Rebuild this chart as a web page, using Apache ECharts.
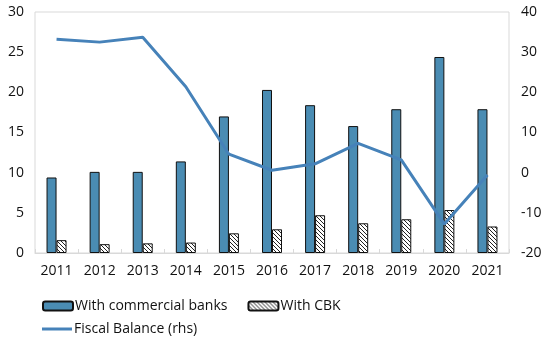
<!DOCTYPE html>
<html><head><meta charset="utf-8">
<script src="https://cdn.jsdelivr.net/npm/echarts@6/dist/echarts.min.js"></script>
<style>html,body{margin:0;padding:0;background:#fff}#c{width:550px;height:341px}</style>
</head><body><div id="c"></div>
<script>
const years = ['2011','2012','2013','2014','2015','2016','2017','2018','2019','2020','2021'];
const commercialBanks = [9.4, 10.1, 10.1, 11.4, 17.0, 20.3, 18.4, 15.8, 17.9, 24.4, 17.9];
const withCBK = [1.6, 1.1, 1.2, 1.3, 2.45, 2.95, 4.7, 3.7, 4.2, 5.35, 3.3];
const fiscalBalance = [33.2, 32.5, 33.7, 21.4, 4.6, 0.6, 2.2, 7.3, 3.2, -12.8, -0.6];

function hatch() {
  const c = document.createElement('canvas');
  c.width = 4; c.height = 4;
  const g = c.getContext('2d');
  g.fillStyle = '#fff'; g.fillRect(0,0,4,4);
  g.strokeStyle = '#222'; g.lineWidth = 1;
  g.beginPath();
  g.moveTo(-1,-1); g.lineTo(5,5);
  g.moveTo(-1,3); g.lineTo(1,5);
  g.moveTo(3,-1); g.lineTo(5,1);
  g.stroke();
  return c;
}
const font = '"Open Sans", sans-serif';
const chart = echarts.init(document.getElementById('c'), null, {renderer:'canvas'});
chart.setOption({
  animation: false,
  textStyle: {fontFamily: font},
  grid: {left: 35, right: 41, top: 12, bottom: 88, show: true, borderColor: '#d9d9d9', borderWidth: 1},
  legend: [
    {data: ['With commercial banks', 'With CBK'], left: 37, top: 294, itemWidth: 30, itemHeight: 9, itemGap: 20,
     textStyle: {fontSize: 14, color: '#111', fontFamily: font, padding: [0,0,0,-3]}},
    {data: [{name: 'Fiscal Balance (rhs)', icon: 'rect'}], left: 37, top: 317, itemWidth: 30, itemHeight: 3,
     textStyle: {fontSize: 14, color: '#111', fontFamily: font, padding: [0,0,0,-3]}}
  ],
  xAxis: {
    type: 'category', data: years,
    axisLine: {lineStyle: {color: '#d9d9d9'}},
    axisTick: {show: true, inside: true, length: 4, lineStyle: {color: '#d9d9d9'}},
    axisLabel: {color: '#111', fontSize: 14, margin: 11, fontFamily: font}
  },
  yAxis: [
    {type: 'value', min: 0, max: 30, interval: 5, splitLine: {show: false},
     axisLine: {show: false}, axisTick: {show: false},
     axisLabel: {color: '#111', fontSize: 14, margin: 11, fontFamily: font}},
    {type: 'value', min: -20, max: 40, interval: 10, splitLine: {show: false},
     axisLine: {show: false}, axisTick: {show: false},
     axisLabel: {color: '#111', fontSize: 14, margin: 12, fontFamily: font}}
  ],
  series: [
    {name: 'With commercial banks', type: 'bar', data: commercialBanks, barWidth: 10, barGap: '0%',
     itemStyle: {color: '#4a8cb3', borderColor: '#111', borderWidth: 1}},
    {name: 'With CBK', type: 'bar', data: withCBK, barWidth: 10,
     itemStyle: {color: {image: hatch(), repeat: 'repeat'}, borderColor: '#111', borderWidth: 1}},
    {name: 'Fiscal Balance (rhs)', type: 'line', yAxisIndex: 1, data: fiscalBalance, symbol: 'none',
     lineStyle: {color: '#4682b9', width: 3}, itemStyle: {color: '#4682b9'}}
  ]
});
</script></body></html>
